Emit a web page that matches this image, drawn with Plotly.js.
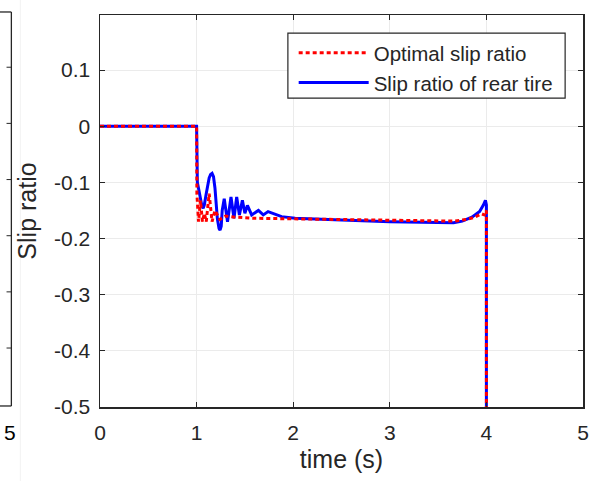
<!DOCTYPE html>
<html>
<head>
<meta charset="utf-8">
<script src="https://cdn.plot.ly/plotly-3.0.1.min.js"></script>
<style>html,body{margin:0;padding:0;background:#fff;}#chart{width:593px;height:481px;}</style>
</head>
<body>
<div id="chart"></div>
<script>
// Slip ratio of rear tire (blue solid)
const rearTime = [0, 1.0, 1.008, 1.03, 1.055, 1.068, 1.08, 1.10, 1.13, 1.145, 1.16, 1.175, 1.19, 1.215, 1.232, 1.243, 1.255, 1.265, 1.286, 1.32, 1.356, 1.387, 1.415, 1.443, 1.474, 1.50, 1.526, 1.57, 1.64, 1.69, 1.74, 1.88, 2.02, 2.5, 3.0, 3.66, 3.75, 3.85, 3.93, 3.97, 3.99, 4.0, 4.0];
const rearSlip = [0, 0, -0.1, -0.12, -0.142, -0.146, -0.14, -0.12, -0.092, -0.086, -0.084, -0.09, -0.11, -0.165, -0.182, -0.185, -0.178, -0.15, -0.129, -0.17, -0.126, -0.164, -0.126, -0.158, -0.132, -0.155, -0.141, -0.158, -0.15, -0.158, -0.152, -0.161, -0.164, -0.167, -0.17, -0.172, -0.169, -0.162, -0.152, -0.14, -0.132, -0.14, -0.6];

// Optimal slip ratio (red dotted)
const optTime = [0, 1.0, 1.003, 1.02, 1.04, 1.06, 1.08, 1.10, 1.13, 1.16, 1.19, 1.24, 1.30, 1.4, 1.6, 2.0, 2.5, 3.0, 3.66, 3.8, 3.88, 3.95, 3.98, 4.0, 4.0];
const optSlip = [0, 0, -0.12, -0.17, -0.132, -0.17, -0.155, -0.17, -0.12, -0.17, -0.15, -0.166, -0.16, -0.162, -0.164, -0.165, -0.167, -0.168, -0.169, -0.166, -0.162, -0.156, -0.158, -0.15, -0.6];

const xTicks = [0, 1, 2, 3, 4, 5];
const yTicks = [-0.5, -0.4, -0.3, -0.2, -0.1, 0, 0.1];
const yTickText = ['-0.5', '-0.4', '-0.3', '-0.2', '-0.1', '0', '0.1'];
const seriesNames = ['Slip ratio of rear tire', 'Optimal slip ratio'];

const axisColor = '#262626';
const font = 'Arial, "Liberation Sans", sans-serif';

const traces = [
  {x: rearTime, y: rearSlip, name: seriesNames[0], mode: 'lines',
   line: {color: '#0000ff', width: 3}},
  {x: optTime, y: optSlip, name: seriesNames[1], mode: 'lines',
   line: {color: '#ff0000', width: 3, dash: '4px,3px'}}
];

// legend box and the neighbouring (cropped) panel on the left edge
const shapes = [
  {type: 'rect', xref: 'paper', yref: 'paper', x0: 0.389, x1: 0.963, y0: 0.788, y1: 0.954, layer: 'above',
   fillcolor: '#ffffff', line: {color: axisColor, width: 1.2}},
  {type: 'line', xref: 'paper', yref: 'paper', x0: -0.1835, x1: -0.1835, y0: 0.0026, y1: 1.0077, line: {color: axisColor, width: 1.3}},
  {type: 'line', xref: 'paper', yref: 'paper', x0: -0.21, x1: -0.1835, y0: 0.0026, y1: 0.0026, line: {color: axisColor, width: 1.3}},
  {type: 'line', xref: 'paper', yref: 'paper', x0: -0.21, x1: -0.1835, y0: 1.0077, y1: 1.0077, line: {color: axisColor, width: 1.3}},
  {type: 'line', xref: 'paper', yref: 'paper', x0: -0.165, x1: -0.165, y0: -0.2, y1: 1.05, line: {color: '#f2f2f2', width: 1}}
];
yTicks.slice(1).forEach(v => {
  shapes.push({type: 'line', xref: 'paper', yref: 'y', x0: -0.1835, x1: -0.1935, y0: v + 0.005, y1: v + 0.005, line: {color: axisColor, width: 1}});
});

const layout = {
  width: 593, height: 481,
  margin: {l: 100, r: 10, t: 15, b: 74},
  paper_bgcolor: '#ffffff', plot_bgcolor: '#ffffff',
  showlegend: true,
  font: {family: font, color: axisColor, size: 21},
  xaxis: {
    range: [0, 5], tickvals: xTicks, ticktext: xTicks.map(String),
    showgrid: true, gridcolor: '#ebebeb', gridwidth: 1, zeroline: false,
    showline: true, linecolor: axisColor, linewidth: 1.5, mirror: 'ticks',
    ticks: 'inside', ticklen: 5, tickcolor: axisColor, ticklabelstandoff: 6,
    tickfont: {size: 21, color: axisColor, family: font},
    title: {text: 'time (s)', font: {size: 25, color: axisColor, family: font}, standoff: 8}
  },
  yaxis: {
    range: [-0.5, 0.198], tickvals: yTicks, ticktext: yTickText,
    showgrid: true, gridcolor: '#ebebeb', gridwidth: 1, zeroline: false,
    showline: true, linecolor: axisColor, linewidth: 1.5, mirror: 'ticks',
    ticks: 'inside', ticklen: 5, tickcolor: axisColor, ticklabelstandoff: 4,
    tickfont: {size: 21, color: axisColor, family: font},
    title: {text: 'Slip ratio', font: {size: 25, color: axisColor, family: font}, standoff: 10}
  },
  legend: {
    x: 0.401, y: 0.954, xanchor: 'left', yanchor: 'top',
    bgcolor: 'rgba(0,0,0,0)', borderwidth: 0,
    font: {size: 20.5, color: axisColor, family: font},
    traceorder: 'reversed', itemwidth: 70, tracegroupgap: 0
  },
  shapes: shapes,
  annotations: [
    {xref: 'paper', yref: 'paper', x: -0.1865, y: -0.064, text: '5', showarrow: false,
     xanchor: 'center', yanchor: 'middle', font: {size: 21, color: '#000000', family: font}}
  ],
  hovermode: false
};

Plotly.newPlot('chart', traces, layout, {displayModeBar: false, staticPlot: true});
</script>
</body>
</html>
